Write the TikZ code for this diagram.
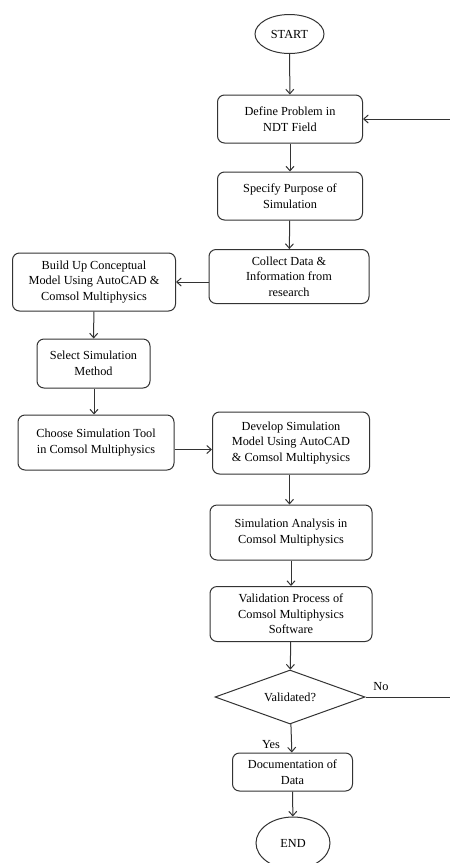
\documentclass[tikz,border=0pt]{standalone}
\usepackage{fontspec}
\setmainfont{Liberation Serif}
\usetikzlibrary{shapes.geometric,arrows.meta}
\begin{document}
\begin{tikzpicture}[x=1pt,y=-1pt,
  every node/.style={font=\fontsize{12.3}{15.5}\selectfont, align=center, text=black},
  box/.style={draw=black!80, line width=1pt, rounded corners=7pt, inner sep=0pt},
  term/.style={draw=black!80, line width=1pt, ellipse, inner sep=0pt},
  arr/.style={draw=black!80, line width=1pt, -{Straight Barb[length=4.5pt,width=8pt]}},
  ln/.style={draw=black!80, line width=1pt}]
\useasboundingbox (0,0) rectangle (450,863);
\node[term, minimum width=69, minimum height=39] (start) at (289.5,34) {START};
\node[box, minimum width=145, minimum height=48] (define) at (290,119) {Define Problem in\\NDT Field};
\node[box, minimum width=145, minimum height=48] (specify) at (290,196) {Specify Purpose of\\Simulation};
\node[box, minimum width=160, minimum height=54] (collect) at (289,276.5) {Collect Data \&\\Information from\\research};
\node[box, minimum width=163, minimum height=58] (build) at (94,282) {Build Up Conceptual\\Model Using AutoCAD \&\\Comsol Multiphysics};
\node[box, minimum width=113, minimum height=49] (select) at (93.5,363.5) {Select Simulation\\Method};
\node[box, minimum width=156, minimum height=55] (choose) at (96,442.5) {Choose Simulation Tool\\in Comsol Multiphysics};
\node[box, minimum width=157, minimum height=62] (develop) at (291,443) {Develop Simulation\\Model Using AutoCAD\\\& Comsol Multiphysics};
\node[box, minimum width=162, minimum height=55] (analysis) at (291,532.5) {Simulation Analysis in\\Comsol Multiphysics};
\node[box, minimum width=162, minimum height=55] (valid) at (291,614) {Validation Process of\\Comsol Multiphysics\\Software};
\node[draw=black!80, line width=1pt, diamond, aspect=2.78, minimum width=150, minimum height=54, inner sep=0pt] (dia) at (290,697) {Validated?};
\node[box, minimum width=120, minimum height=38] (doc) at (292.5,772) {Documentation of\\Data};
\node[term, minimum width=74, minimum height=52] (end) at (293,843) {END};
\coordinate (fb) at (450,119);
\coordinate (noend) at (450,697);
\node (nolab) at (381,687) {No};
\node (yeslab) at (271,745) {Yes};
\draw[arr] (start) -- (define);
\draw[arr] (define) -- (specify);
\draw[arr] (specify) -- (collect);
\draw[arr] (collect.west |- build.east) -- (build.east);
\draw[arr] (build) -- (select);
\draw[arr] (select.south -| build.south) -- (choose.north -| build.south);
\draw[arr] ([yshift=-7pt]choose.east) -- ([yshift=-7pt]choose.east -| develop.west);
\draw[arr] (develop.south -| start) -- (analysis.north -| start);
\draw[arr] (analysis) -- (valid);
\draw[arr] (valid) -- (dia);
\draw[arr] (dia) -- (doc);
\draw[arr] (doc) -- (end);
\draw[ln] (dia.east) -- (noend);
\draw[arr] (fb) -- (define.east);
\end{tikzpicture}
\end{document}
